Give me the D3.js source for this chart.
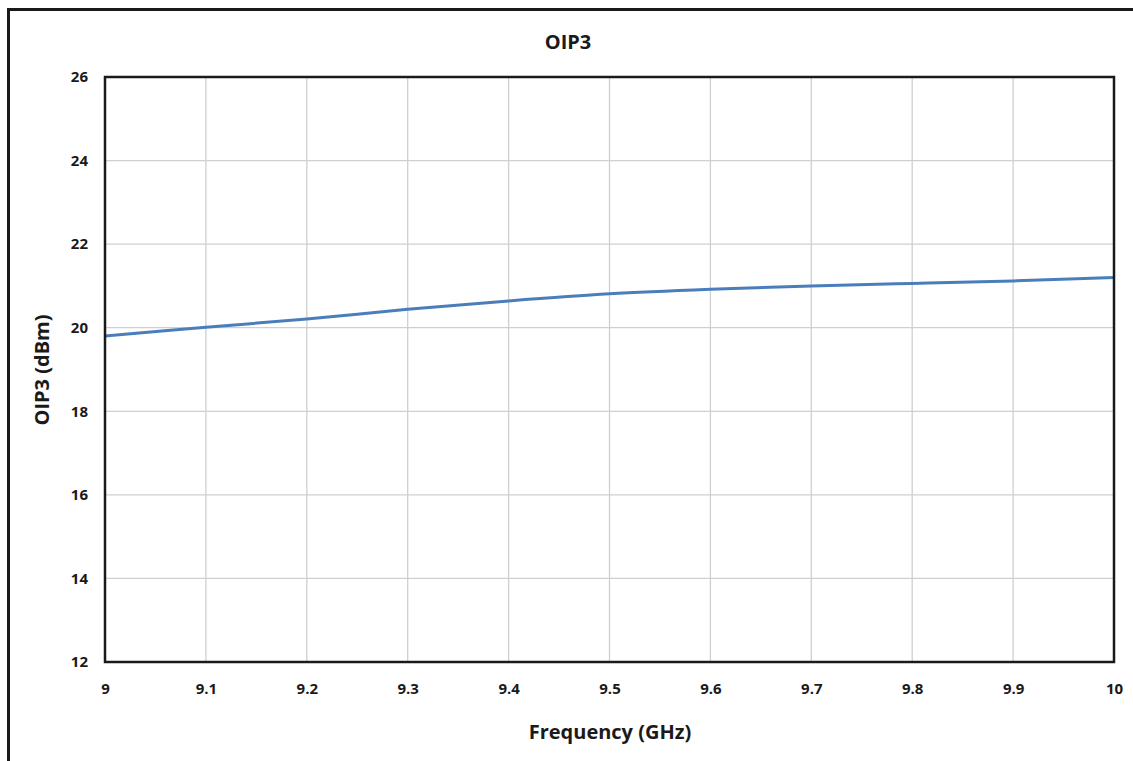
<!DOCTYPE html>
<html>
<head>
<meta charset="utf-8">
<script src="https://cdn.jsdelivr.net/npm/d3@7"></script>
<style>
  html, body { margin: 0; padding: 0; background: #fff; }
  svg { display: block; }
  text { font-family: "Open Sans", "Liberation Sans", sans-serif; font-weight: bold; fill: #1a1a1a; }
</style>
</head>
<body>
<svg id="chart" width="1133" height="761"></svg>
<script>
const frequency = [9.0, 9.1, 9.2, 9.3, 9.4, 9.5, 9.6, 9.7, 9.8, 9.9, 10.0];
const oip3 = [19.80, 20.01, 20.21, 20.44, 20.64, 20.81, 20.92, 21.00, 21.06, 21.12, 21.20];
const xTicks = [9, 9.1, 9.2, 9.3, 9.4, 9.5, 9.6, 9.7, 9.8, 9.9, 10];
const yTicks = [12, 14, 16, 18, 20, 22, 24, 26];
const chartTitle = "OIP3";
const xTitle = "Frequency (GHz)";
const yTitle = "OIP3 (dBm)";

const svg = d3.select("#chart");
const pLeft = 105, pRight = 1114, pTop = 77, pBottom = 662;

// outer frame
svg.append("rect").attr("x", 8.5).attr("y", 9.5).attr("width", 1140).attr("height", 780)
  .attr("fill", "none").attr("stroke", "#1a1a1a").attr("stroke-width", 3);

const x = d3.scaleLinear().domain([9, 10]).range([pLeft, pRight]);
const y = d3.scaleLinear().domain([12, 26]).range([pBottom, pTop]);

// grid
svg.append("g").selectAll("line").data(xTicks.slice(1, -1)).join("line")
  .attr("x1", d => x(d)).attr("x2", d => x(d)).attr("y1", pTop).attr("y2", pBottom)
  .attr("stroke", "#cfcfcf").attr("stroke-width", 1.3);
svg.append("g").selectAll("line").data(yTicks.slice(1, -1)).join("line")
  .attr("x1", pLeft).attr("x2", pRight).attr("y1", d => y(d)).attr("y2", d => y(d))
  .attr("stroke", "#cfcfcf").attr("stroke-width", 1.3);

// axes labels via d3 axes
const xAxis = svg.append("g").attr("transform", `translate(0,${pBottom})`)
  .call(d3.axisBottom(x).tickValues(xTicks).tickSize(0).tickPadding(21).tickFormat(d3.format("")));
xAxis.select(".domain").remove();
xAxis.selectAll("text").style("font-size", "15px").attr("fill", "#1a1a1a");

const yAxis = svg.append("g").attr("transform", `translate(${pLeft},0)`)
  .call(d3.axisLeft(y).tickValues(yTicks).tickSize(0).tickPadding(17).tickFormat(d3.format("d")));
yAxis.select(".domain").remove();
yAxis.selectAll("text").style("font-size", "15px").attr("fill", "#1a1a1a");

// line
const line = d3.line().x((d, i) => x(frequency[i])).y(d => y(d)).curve(d3.curveCatmullRom);
svg.append("path").datum(oip3).attr("d", line)
  .attr("fill", "none").attr("stroke", "#4a7ebb").attr("stroke-width", 3);

// plot border
svg.append("rect").attr("x", pLeft).attr("y", pTop).attr("width", pRight - pLeft).attr("height", pBottom - pTop)
  .attr("fill", "none").attr("stroke", "#1a1a1a").attr("stroke-width", 2.5);

// titles
svg.append("text").attr("x", 568).attr("y", 49).attr("text-anchor", "middle")
  .style("font-size", "20px").text(chartTitle);
svg.append("text").attr("x", 610).attr("y", 739).attr("text-anchor", "middle")
  .style("font-size", "20px").text(xTitle);
svg.append("text").attr("transform", "translate(49,370) rotate(-90)").attr("text-anchor", "middle")
  .style("font-size", "20px").text(yTitle);
</script>
</body>
</html>
